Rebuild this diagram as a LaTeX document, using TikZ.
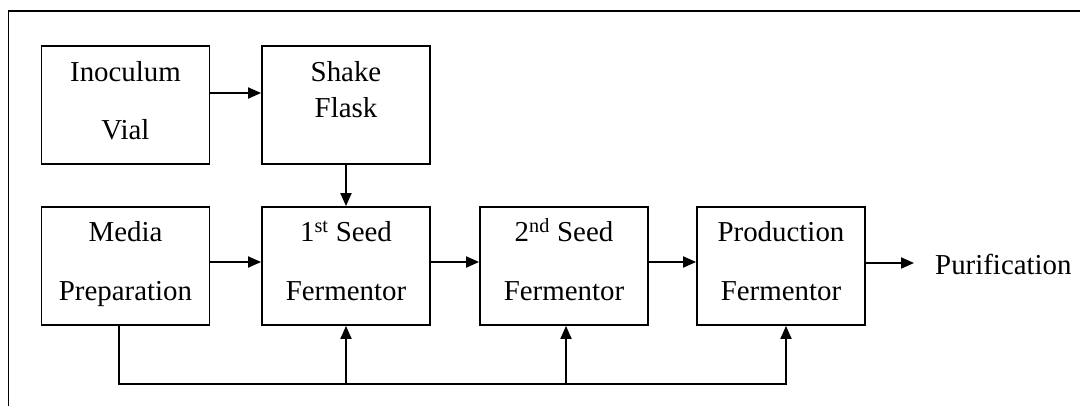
\documentclass[tikz,border=0pt]{standalone}
\usepackage{fontspec}
\setmainfont{Liberation Serif}
\usetikzlibrary{arrows.meta,calc}
\begin{document}
\begin{tikzpicture}[x=1bp,y=1bp,
  box/.style={draw, line width=1.8bp, minimum width=168bp, minimum height=118bp, inner sep=0pt},
  txt/.style={font=\fontsize{29}{35}\selectfont, anchor=base, inner sep=0pt},
  conn/.style={line width=1.9bp, -{Triangle[length=13bp,width=11bp]}},
  frame/.style={line width=1.6bp}]
\useasboundingbox (0,0) rectangle (1080,406);
\draw[frame] (1080,395) -- (8.5,395) -- (8.5,0);
% boxes
\node[box] (iv) at (125.5,301) {};
\node[box] (sf) at (346,301) {};
\node[box] (mp) at (125.5,140) {};
\node[box] (s1) at (346,140) {};
\node[box] (s2) at (564,140) {};
\node[box] (pf) at (781,140) {};
% texts
\node[txt] (iv1) at (iv.center |- 0,325) {Inoculum};
\node[txt] (iv2) at (iv.center |- 0,267) {Vial};
\node[txt] (sf1) at (sf.center |- 0,325) {Shake};
\node[txt] (sf2) at (sf.center |- 0,289) {Flask};
\node[txt] (mp1) at (mp.center |- 0,165) {Media};
\node[txt] (mp2) at (mp.center |- 0,106) {Preparation};
\node[txt] (s11) at (s1.center |- 0,165) {1\textsuperscript{st} Seed};
\node[txt] (s12) at (s1.center |- 0,106) {Fermentor};
\node[txt] (s21) at (s2.center |- 0,165) {2\textsuperscript{nd} Seed};
\node[txt] (s22) at (s2.center |- 0,106) {Fermentor};
\node[txt] (pf1) at (pf.center |- 0,165) {Production};
\node[txt] (pf2) at (pf.center |- 0,106) {Fermentor};
\node[txt, anchor=base west] (pur) at (935,132) {Purification};
\coordinate (pend) at (914,143);
% connectors
\draw[conn] ($(iv.east)+(0,12)$) -- ($(sf.west)+(0,12)$);
\draw[conn] (sf.south) -- (s1.north);
\draw[conn] ($(mp.east)+(0,4)$) -- ($(s1.west)+(0,4)$);
\draw[conn] ($(s1.east)+(0,4)$) -- ($(s2.west)+(0,4)$);
\draw[conn] ($(s2.east)+(0,4)$) -- ($(pf.west)+(0,4)$);
\draw[conn] ($(pf.east)+(0,3)$) -- (pend);
\draw[conn] ($(mp.south)+(-6.5,0)$) |- ($(pf.south)+(5,-58)$) -- ($(pf.south)+(5,0)$);
\draw[conn] ($(s1.south)+(0,-58)$) -- (s1.south);
\draw[conn] ($(s2.south)+(2,-58)$) -- ($(s2.south)+(2,0)$);
\end{tikzpicture}
\end{document}
